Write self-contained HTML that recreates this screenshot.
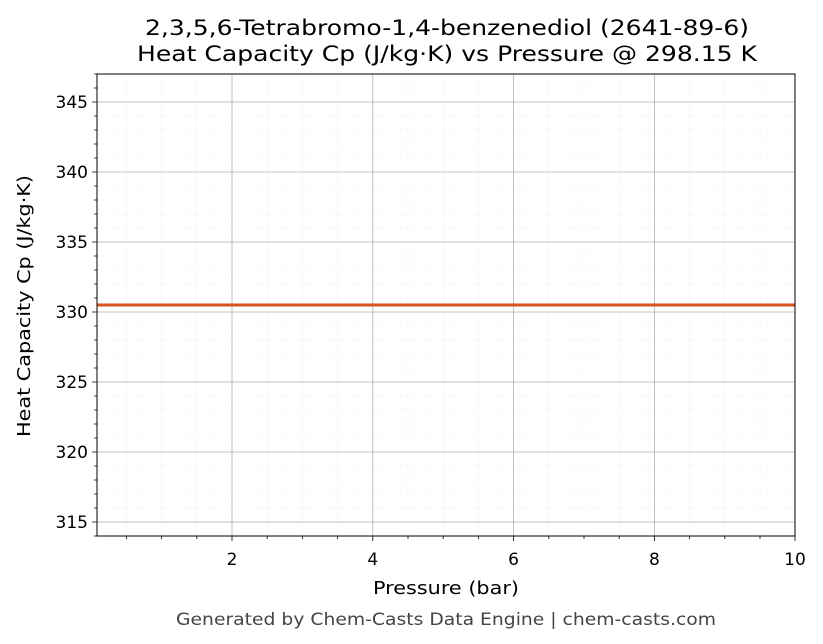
<!DOCTYPE html>
<html><head><meta charset="utf-8"><style>
body{margin:0;background:#fff;}
svg{display:block;font-family:"DejaVu Sans","Liberation Sans",sans-serif;}
</style></head><body>
<svg width="823" height="644" viewBox="0 0 823 644" xmlns="http://www.w3.org/2000/svg">
<rect width="823" height="644" fill="#fff"/>
<g stroke="#e6e6e6" stroke-width="0.6" stroke-dasharray="1.5,1.5">
<path d="M126.4 74V536M161.6 74V536M196.8 74V536M267.2 74V536M302.4 74V536M337.6 74V536M408 74V536M443.2 74V536M478.4 74V536M548.8 74V536M584 74V536M619.2 74V536M689.6 74V536M724.8 74V536M760 74V536"/>
<path d="M97 522H795M97 508H795M97 494H795M97 480H795M97 466H795M97 438H795M97 424H795M97 410H795M97 396H795M97 368H795M97 354H795M97 340H795M97 326H795M97 298H795M97 284H795M97 270H795M97 256H795M97 228H795M97 214H795M97 200H795M97 186H795M97 158H795M97 144H795M97 130H795M97 116H795M97 88H795"/>
</g>
<g stroke="#b0b0b0" stroke-width="0.8">
<path d="M232 74V536M372.8 74V536M513.6 74V536M654.4 74V536"/>
<path d="M97 102H795M97 172H795M97 242H795M97 312H795M97 382H795M97 452H795M97 522H795"/>
</g>
<line x1="97" y1="305" x2="795" y2="305" stroke="#d9531e" stroke-width="3"/>
<rect x="97" y="74" width="698" height="462" fill="none" stroke="#000" stroke-width="1"/>
<g stroke="#000" stroke-width="0.8">
<path d="M232 536v5M372.8 536v5M513.6 536v5M654.4 536v5M795 536v5"/>
<path d="M126.4 536v3M161.6 536v3M196.8 536v3M267.2 536v3M302.4 536v3M337.6 536v3M408 536v3M443.2 536v3M478.4 536v3M548.8 536v3M584 536v3M619.2 536v3M689.6 536v3M724.8 536v3M760 536v3"/>
<path d="M97 102h-5M97 172h-5M97 242h-5M97 312h-5M97 382h-5M97 452h-5M97 522h-5"/>
<path d="M97 536h-3M97 508h-3M97 494h-3M97 480h-3M97 466h-3M97 438h-3M97 424h-3M97 410h-3M97 396h-3M97 368h-3M97 354h-3M97 340h-3M97 326h-3M97 298h-3M97 284h-3M97 270h-3M97 256h-3M97 228h-3M97 214h-3M97 200h-3M97 186h-3M97 158h-3M97 144h-3M97 130h-3M97 116h-3M97 88h-3M97 74h-3"/>
</g>
<g font-size="17" fill="#000" text-anchor="middle">
<text x="232" y="565">2</text><text x="372.8" y="565">4</text><text x="513.6" y="565">6</text><text x="654.4" y="565">8</text><text x="795" y="565">10</text>
</g>
<g font-size="17" fill="#000" text-anchor="end">
<text x="88" y="108">345</text><text x="88" y="178">340</text><text x="88" y="248">335</text><text x="88" y="318">330</text><text x="88" y="388">325</text><text x="88" y="458">320</text><text x="88" y="528">315</text>
</g>
<text x="373" y="594" font-size="17.5" textLength="146" lengthAdjust="spacingAndGlyphs">Pressure (bar)</text>
<text transform="translate(30 437) rotate(-90)" font-size="17.5" textLength="262" lengthAdjust="spacingAndGlyphs">Heat Capacity Cp (J/kg·K)</text>
<text x="145" y="35" font-size="21" textLength="604" lengthAdjust="spacingAndGlyphs">2,3,5,6-Tetrabromo-1,4-benzenediol (2641-89-6)</text>
<text x="137" y="61" font-size="21" textLength="620" lengthAdjust="spacingAndGlyphs">Heat Capacity Cp (J/kg·K) vs Pressure @ 298.15 K</text>
<text x="176" y="625" font-size="16.5" fill="#444" textLength="540" lengthAdjust="spacingAndGlyphs">Generated by Chem-Casts Data Engine | chem-casts.com</text>
</svg>
</body></html>
